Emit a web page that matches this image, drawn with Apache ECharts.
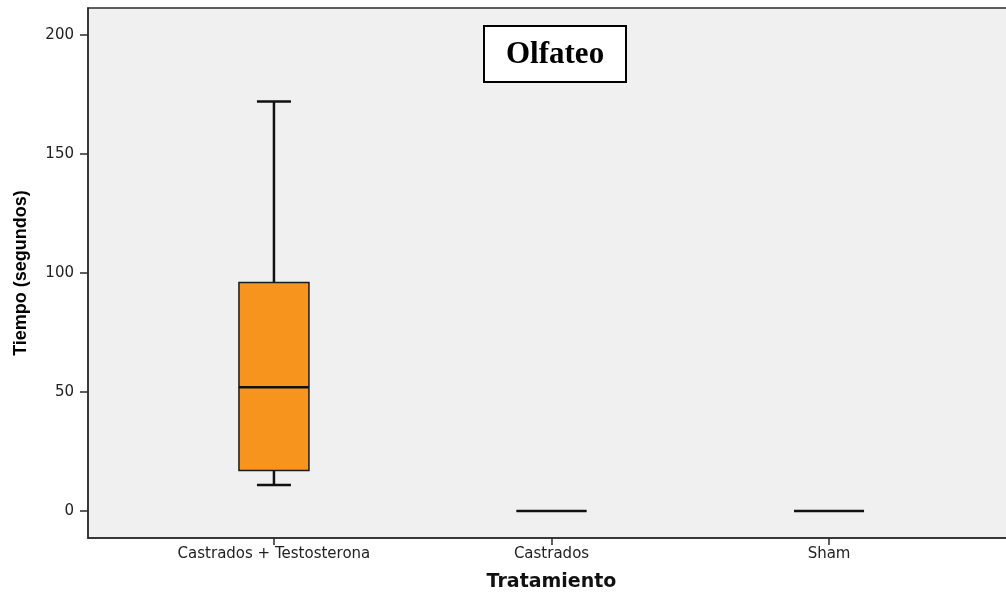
<!DOCTYPE html>
<html>
<head>
<meta charset="utf-8">
<title>Olfateo</title>
<script src="https://cdn.jsdelivr.net/npm/echarts@6/dist/echarts.min.js"></script>
<style>
  html, body { margin: 0; padding: 0; background: #ffffff; }
  #chart { width: 1006px; height: 594px; }
</style>
</head>
<body>
<div id="chart"></div>
<script>
// Treatment groups and their box-plot summaries (seconds)
const categories = ['Castrados + Testosterona', 'Castrados', 'Sham'];
const lowerWhisker = [11, 0, 0];
const firstQuartile = [17, 0, 0];
const medians = [52, 0, 0];
const thirdQuartile = [96, 0, 0];
const upperWhisker = [172, 0, 0];
const yTicks = [0, 50, 100, 150, 200];
const xTicks = [0, 1, 2];

const boxData = categories.map((c, i) => [
  i, lowerWhisker[i], firstQuartile[i], medians[i], thirdQuartile[i], upperWhisker[i]
]);

const BOX_HALF = 35;
const CAP_HALF = 17;

function renderBox(params, api) {
  const x = api.value(0);
  const low = api.value(1), q1 = api.value(2), med = api.value(3),
        q3 = api.value(4), high = api.value(5);
  const pt = v => api.coord([x, v]);
  const cx = pt(med)[0];
  const yLow = pt(low)[1], yQ1 = pt(q1)[1], yMed = pt(med)[1],
        yQ3 = pt(q3)[1], yHigh = pt(high)[1];
  const lineStyle = { stroke: '#111111', lineWidth: 2.5 };
  const children = [];
  if (high > q3) {
    children.push({ type: 'line', shape: { x1: cx, y1: yQ3, x2: cx, y2: yHigh }, style: lineStyle });
    children.push({ type: 'line', shape: { x1: cx - CAP_HALF, y1: yHigh, x2: cx + CAP_HALF, y2: yHigh }, style: lineStyle });
  }
  if (low < q1) {
    children.push({ type: 'line', shape: { x1: cx, y1: yQ1, x2: cx, y2: yLow }, style: lineStyle });
    children.push({ type: 'line', shape: { x1: cx - CAP_HALF, y1: yLow, x2: cx + CAP_HALF, y2: yLow }, style: lineStyle });
  }
  children.push({
    type: 'rect',
    shape: { x: cx - BOX_HALF, y: yQ3, width: BOX_HALF * 2, height: yQ1 - yQ3 },
    style: { fill: '#f7941e', stroke: '#1a1a1a', lineWidth: 1.5 }
  });
  children.push({
    type: 'line',
    shape: { x1: cx - BOX_HALF, y1: yMed, x2: cx + BOX_HALF, y2: yMed },
    style: { stroke: '#111111', lineWidth: 2.5 }
  });
  return { type: 'group', children: children };
}

const chart = echarts.init(document.getElementById('chart'), null, { renderer: 'canvas' });

chart.setOption({
  backgroundColor: '#ffffff',
  animation: false,
  title: {
    text: 'Olfateo',
    left: 484,
    top: 26,
    padding: [13, 22, 12, 22],
    backgroundColor: '#ffffff',
    borderColor: '#000000',
    borderWidth: 2,
    textStyle: {
      fontFamily: '"Liberation Serif", "Times New Roman", serif',
      fontWeight: 'bold',
      fontSize: 31,
      color: '#000000'
    }
  },
  grid: {
    left: 88,
    right: -9,
    top: 8,
    bottom: 56,
    containLabel: false,
    outerBoundsMode: 'none',
    show: true,
    backgroundColor: '#f0f0f0',
    borderColor: '#2b2b2b',
    borderWidth: 1.5
  },
  xAxis: {
    type: 'value',
    min: -0.67,
    max: 2.67,
    name: 'Tratamiento',
    nameLocation: 'middle',
    nameGap: 35,
    nameTextStyle: {
      fontFamily: '"DejaVu Sans", sans-serif',
      fontWeight: 'bold',
      fontSize: 19,
      color: '#111111'
    },
    axisLine: { show: true, onZero: false, lineStyle: { color: '#2b2b2b', width: 1.5 } },
    axisTick: { show: true, length: 7, customValues: xTicks, lineStyle: { color: '#2b2b2b', width: 1.5 } },
    axisLabel: {
      customValues: xTicks,
      margin: 9,
      fontFamily: '"DejaVu Sans", sans-serif',
      fontSize: 15,
      color: '#222222',
      formatter: v => categories[Math.round(v)]
    },
    splitLine: { show: false }
  },
  yAxis: {
    type: 'value',
    min: -11.3,
    max: 211.3,
    name: 'Tiempo (segundos)',
    nameLocation: 'middle',
    nameRotate: 90,
    nameGap: 58,
    nameTextStyle: {
      fontFamily: '"Liberation Sans", Arial, sans-serif',
      fontWeight: 'bold',
      fontSize: 18,
      color: '#000000'
    },
    axisLine: { show: true, onZero: false, lineStyle: { color: '#2b2b2b', width: 1.5 } },
    axisTick: { show: true, length: 8, customValues: yTicks, lineStyle: { color: '#2b2b2b', width: 1.5 } },
    axisLabel: {
      customValues: yTicks,
      margin: 14,
      fontFamily: '"DejaVu Sans", sans-serif',
      fontSize: 15,
      color: '#222222'
    },
    splitLine: { show: false }
  },
  series: [{
    type: 'custom',
    renderItem: renderBox,
    encode: { x: 0, y: [1, 2, 3, 4, 5] },
    data: boxData,
    clip: false
  }]
});
</script>
</body>
</html>
